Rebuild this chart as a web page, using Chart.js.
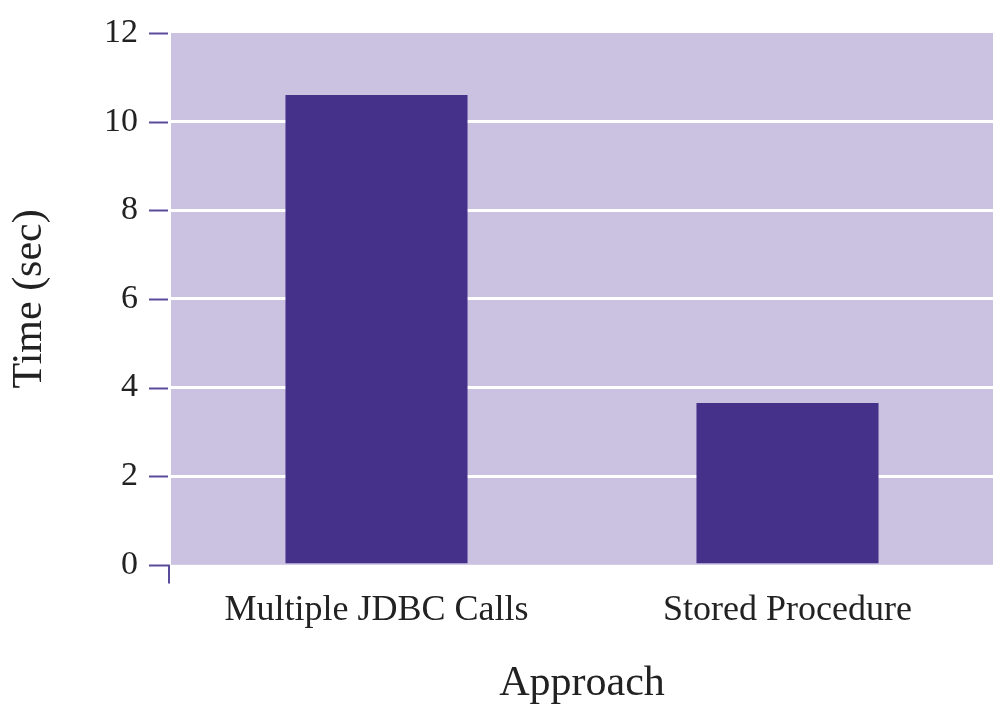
<!DOCTYPE html>
<html>
<head>
<meta charset="utf-8">
<script src="https://cdn.jsdelivr.net/npm/chart.js@4"></script>
<style>
html,body{margin:0;padding:0;background:#fff;}
#wrap{width:993px;height:705px;position:relative;}
</style>
</head>
<body>
<div id="wrap"><canvas id="c"></canvas></div>
<script>
const categories = ['Multiple JDBC Calls', 'Stored Procedure'];
const timeValues = [10.6, 3.65];
const yTicks = [0, 2, 4, 6, 8, 10, 12];
const yTitle = 'Time (sec)';
const xTitle = 'Approach';

const plotBg = {
  id: 'plotBg',
  beforeDraw(chart) {
    const {ctx, chartArea: a} = chart;
    ctx.save();
    ctx.fillStyle = '#cbc1e0';
    ctx.fillRect(a.left, a.top, a.right - a.left, a.bottom - a.top);
    ctx.restore();
  },
  afterDraw(chart) {
    const {ctx, chartArea: a} = chart;
    const y = chart.scales.y;
    ctx.save();
    ctx.strokeStyle = '#5a4a9a';
    ctx.lineWidth = 2;
    yTicks.forEach(v => {
      const py = Math.round(y.getPixelForValue(v)) + 0.5;
      ctx.beginPath();
      if (v === 0) {
        ctx.moveTo(a.left - 22, py);
        ctx.lineTo(a.left - 2, py);
        ctx.lineTo(a.left - 2, py + 18);
      } else {
        ctx.moveTo(a.left - 22, py);
        ctx.lineTo(a.left - 3, py);
      }
      ctx.stroke();
    });
    ctx.restore();
  }
};

new Chart(document.getElementById('c'), {
  type: 'bar',
  data: {
    labels: categories,
    datasets: [{
      data: timeValues,
      backgroundColor: '#46318a',
      borderWidth: 0,
      barPercentage: 0.443,
      categoryPercentage: 1.0
    }]
  },
  options: {
    responsive: true,
    maintainAspectRatio: false,
    animation: false,
    layout: { padding: { top: 33, right: 0, left: 0, bottom: 0 } },
    plugins: { legend: { display: false }, tooltip: { enabled: false } },
    scales: {
      x: {
        grid: { display: false, drawTicks: false },
        border: { display: false },
        ticks: {
          color: '#222',
          font: { family: 'Liberation Serif', size: 36 },
          padding: 24
        },
        title: {
          display: true,
          text: xTitle,
          color: '#222',
          font: { family: 'Liberation Serif', size: 42, lineHeight: 1 },
          padding: { top: 7, bottom: 0 }
        }
      },
      y: {
        min: 0,
        max: 12,
        afterBuildTicks(scale) { scale.ticks = yTicks.map(v => ({ value: v })); },
        grid: {
          drawTicks: true,
          tickLength: 33,
          tickColor: 'rgba(0,0,0,0)',
          lineWidth: 3,
          color: ctx => (ctx.tick && ctx.tick.value > 0 && ctx.tick.value < 12) ? '#ffffff' : 'rgba(0,0,0,0)'
        },
        border: { display: false },
        ticks: {
          color: '#222',
          font: { family: 'Liberation Serif', size: 34 },
          padding: 0
        },
        title: {
          display: true,
          text: yTitle,
          color: '#222',
          font: { family: 'Liberation Serif', size: 42, lineHeight: 1 },
          padding: { top: 9, bottom: 53 }
        }
      }
    }
  },
  plugins: [plotBg]
});
</script>
</body>
</html>
